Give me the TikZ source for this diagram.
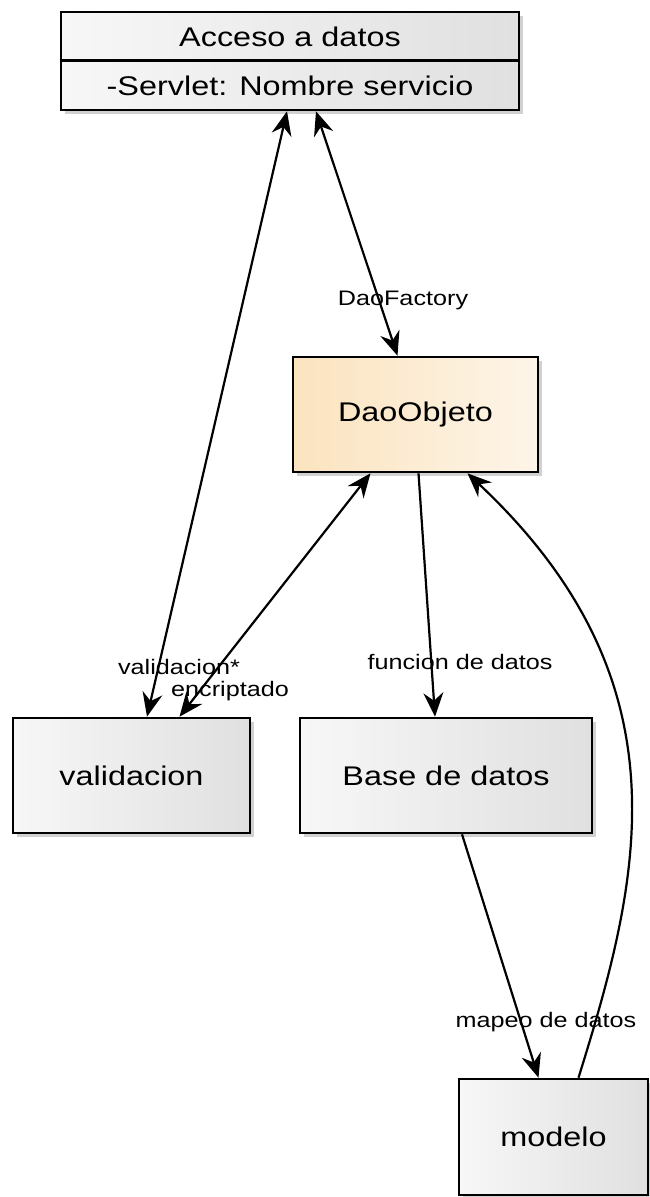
\documentclass[tikz,border=0pt]{standalone}
\usepackage{fontspec}
\setmainfont{Liberation Sans}[FakeStretch=1.2]
\usetikzlibrary{arrows.meta,shadows,calc}
\definecolor{grayL}{HTML}{F7F7F7}
\definecolor{grayR}{HTML}{E0E0E0}
\definecolor{creamL}{HTML}{FBE3BE}
\definecolor{creamR}{HTML}{FDF5E9}
\tikzset{
  box/.style={draw=black, line width=2.6pt, rectangle, inner sep=0pt,
    drop shadow={shadow xshift=4pt, shadow yshift=-4pt, fill=black, opacity=0.18},
    font=\fontsize{27}{32}\selectfont},
  graybox/.style={box, left color=grayL, right color=grayR},
  creambox/.style={box, left color=creamL, right color=creamR},
  txt/.style={inner sep=0pt, font=\fontsize{27}{32}\selectfont},
  lbl/.style={inner sep=0pt, font=\fontsize{21}{25}\selectfont},
  conn/.style={line width=2.2pt, draw=black},
  headend/.style={-{Stealth[length=24pt,width=20pt,inset=8pt]}},
  headboth/.style={{Stealth[length=24pt,width=20pt,inset=8pt]}-{Stealth[length=24pt,width=20pt,inset=8pt]}},
}
\begin{document}
\begin{tikzpicture}[x=1pt, y=-1pt]
\useasboundingbox (0,0) rectangle (650,1197);
% boxes
\node[graybox, minimum width=458pt, minimum height=98pt] (acceso) at (290,61) {};
\coordinate (divL) at ($(acceso.north west)+(0,50)$);
\coordinate (divR) at ($(acceso.north east)+(0,50)$);
\draw[line width=2.6pt] (divL) -- (divR);
\node[txt] (accT) at (290,37) {Acceso a datos};
\node[txt] (accS) at (290,86) {-Servlet: Nombre servicio};

\node[creambox, minimum width=245pt, minimum height=115pt] (dao) at (415.5,414.5) {DaoObjeto};
\node[graybox, minimum width=237pt, minimum height=115pt] (valid) at (131.5,775.5) {validacion};
\node[graybox, minimum width=292pt, minimum height=115pt] (base) at (446,775.5) {Base de datos};
\node[graybox, minimum width=189pt, minimum height=116pt] (modelo) at (553.5,1137) {modelo};

% connectors
\draw[conn, headboth] ([xshift=-3pt]acceso.south) -- ([xshift=15.5pt]valid.north);
\draw[conn, headboth] ([xshift=26pt]acceso.south) -- ([xshift=-18pt]dao.north);
\draw[conn, headboth] ([xshift=-45pt]dao.south) -- ([xshift=48pt]valid.north);
\draw[conn, headend] ([xshift=3pt]dao.south) -- ([xshift=-11pt]base.north);
\draw[conn, headend] ([xshift=16pt]base.south) -- ([xshift=-15pt]modelo.north);
\draw[conn, headend] ([xshift=25pt]modelo.north) .. controls (640,880) and (691,683) .. ([xshift=52pt]dao.south);

% labels
\node[lbl] (lfac) at (403,300) {DaoFactory};
\node[lbl] (lval) at (179,667) {validacion*};
\node[lbl] (lenc) at (230,691) {encriptado};
\node[lbl] (lfun) at (460,662) {funcion de datos};
\node[lbl] (lmap) at (546,1022) {mapeo de datos};
\end{tikzpicture}
\end{document}
